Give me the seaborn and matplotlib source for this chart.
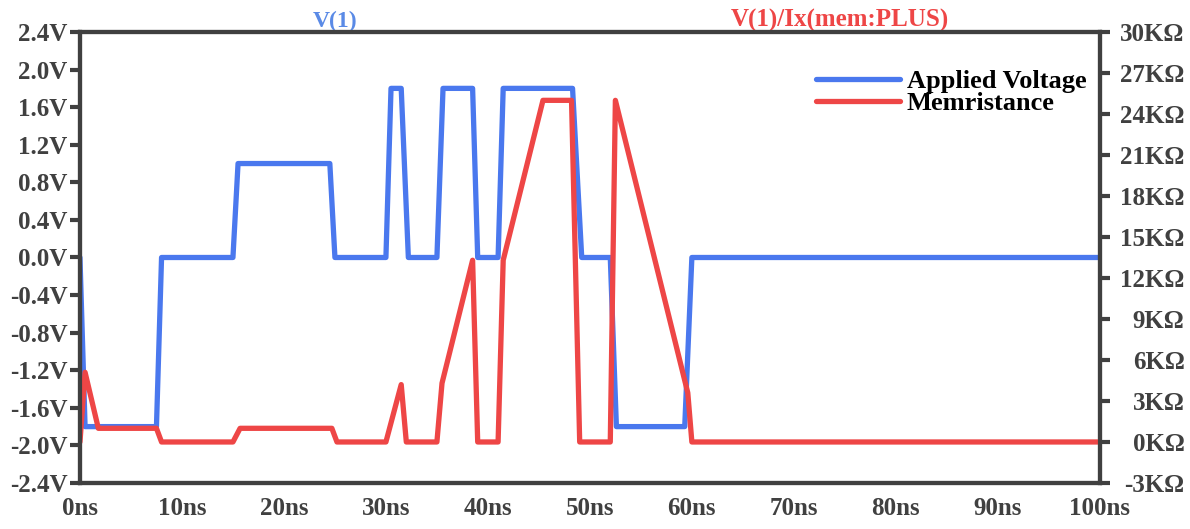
import numpy as np
import pandas as pd
import matplotlib
matplotlib.use("Agg")
import matplotlib.pyplot as plt
from matplotlib.ticker import FuncFormatter, MultipleLocator
import seaborn as sns

# applied voltage V(1) (ns, V)
v_time = [0, 0.5, 7.5, 8, 15, 15.5, 24.5, 25, 30, 30.5, 31.5, 32.2, 35, 35.6,
          38.5, 39, 41, 41.5, 48.3, 49.2, 52, 52.6, 59.3, 60, 100]
v_volts = [0, -1.8, -1.8, 0, 0, 1.0, 1.0, 0, 0, 1.8, 1.8, 0, 0, 1.8,
           1.8, 0, 0, 1.8, 1.8, 0, 0, -1.8, -1.8, 0, 0]

# memristance V(1)/Ix(mem:PLUS) (ns, kOhm)
r_time = [0, 0.5, 1.8, 7.5, 8, 15, 15.7, 24.7, 25.2, 30, 31.5, 32, 35, 35.5,
          38.5, 39, 41, 41.5, 45.4, 48.2, 49, 52, 52.5, 59.6, 60, 100]
r_kohm = [0, 5.1, 1.0, 1.0, 0, 0, 1.0, 1.0, 0, 0, 4.2, 0, 0, 4.3,
          13.3, 0, 0, 13.3, 25, 25, 0, 0, 25, 3.6, 0, 0]

volt_df = pd.DataFrame({"t": v_time, "v": v_volts})
res_df = pd.DataFrame({"t": r_time, "r": r_kohm})

sns.set_style("white")
plt.rcParams['font.family'] = ['Liberation Serif', 'DejaVu Serif']
plt.rcParams['font.weight'] = 'bold'

blue = "#4a78ee"
red = "#ee4646"
grey = "#404040"

fig = plt.figure(figsize=(11.9, 5.29), dpi=100)
ax = fig.add_axes([0.0672, 0.087, 0.857, 0.8525])
ax2 = ax.twinx()

sns.lineplot(data=volt_df, x="t", y="v", ax=ax, color=blue, lw=3.8,
             sort=False, estimator=None, label="Applied Voltage", legend=False)
sns.lineplot(data=res_df, x="t", y="r", ax=ax2, color=red, lw=3.8,
             sort=False, estimator=None, label="Memristance", legend=False)

ax.set_xlim(0, 100)
ax.set_ylim(-2.4, 2.4)
ax2.set_ylim(-3, 30)
ax.xaxis.set_major_locator(MultipleLocator(10))
ax.yaxis.set_major_locator(MultipleLocator(0.4))
ax2.yaxis.set_major_locator(MultipleLocator(3))
ax.xaxis.set_major_formatter(FuncFormatter(lambda x, p: f"{x:.0f}ns"))
ax.yaxis.set_major_formatter(FuncFormatter(lambda y, p: f"{y:.1f}V"))
ax2.yaxis.set_major_formatter(FuncFormatter(lambda y, p: f"{y:.0f}KΩ"))

for a in (ax, ax2):
    a.set_xlabel("")
    a.set_ylabel("")
    for s in a.spines.values():
        s.set_color(grey)
        s.set_linewidth(3)
    a.tick_params(length=7, width=3, color=grey, labelcolor=grey,
                  labelsize=18, pad=2)
ax.tick_params(axis="x", pad=3)
# right-hand labels are right aligned, like the original
ax2.tick_params(axis="y", pad=54)
for t in ax2.yaxis.get_major_ticks():
    t.label2.set_horizontalalignment("right")

ax.text(0.25, 1.0, "V(1)", transform=ax.transAxes, ha="center", va="bottom",
        color="#5a8ae6", fontsize=17, fontweight="bold")
ax.text(0.745, 1.0, "V(1)/Ix(mem:PLUS)", transform=ax.transAxes, ha="center",
        va="bottom", color=red, fontsize=18, fontweight="bold")

h1, l1 = ax.get_legend_handles_labels()
h2, l2 = ax2.get_legend_handles_labels()
leg = ax2.legend(h1 + h2, l1 + l2, loc="upper right", bbox_to_anchor=(0.997, 0.94),
                 frameon=False, handlelength=3.2, labelspacing=-0.05,
                 handletextpad=0.25, borderaxespad=0,
                 prop={"size": 19, "weight": "bold"})
for txt in leg.get_texts():
    txt.set_color("black")

fig.savefig("out.png", dpi=100)
